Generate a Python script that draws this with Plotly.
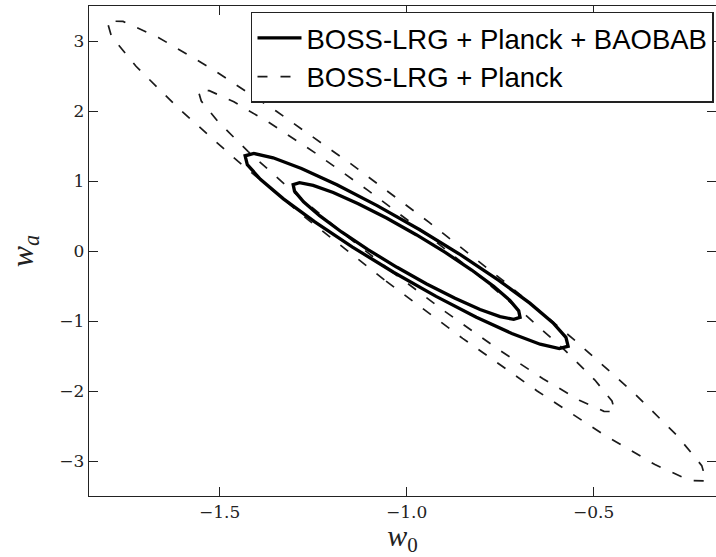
import plotly.graph_objects as go

# Contour vertices (w0, wa)
baobab_2s_w0 = [-1.0340, -1.1446, -1.2454, -1.3293, -1.3909, -1.4258, -1.4317, -1.4082, -1.3569, -1.2812, -1.1864, -1.0788,
                -0.9660, -0.8554, -0.7546, -0.6707, -0.6091, -0.5742, -0.5683, -0.5918, -0.6431, -0.7188, -0.8136, -0.9212]
baobab_2s_wa = [-0.307, 0.056, 0.415, 0.745, 1.025, 1.234, 1.360, 1.393, 1.331, 1.178, 0.945, 0.648,
                0.307, -0.056, -0.415, -0.745, -1.025, -1.234, -1.360, -1.393, -1.331, -1.178, -0.945, -0.648]

baobab_1s_w0 = [-1.0257, -1.1033, -1.1739, -1.2326, -1.2755, -1.2996, -1.3033, -1.2863, -1.2498, -1.1963, -1.1294, -1.0537,
                -0.9743, -0.8967, -0.8261, -0.7674, -0.7245, -0.7004, -0.6967, -0.7137, -0.7502, -0.8037, -0.8706, -0.9463]
baobab_1s_wa = [-0.233, 0.020, 0.272, 0.505, 0.704, 0.855, 0.948, 0.976, 0.938, 0.835, 0.676, 0.471,
                0.233, -0.020, -0.272, -0.505, -0.704, -0.855, -0.948, -0.976, -0.938, -0.835, -0.676, -0.471]

planck_2s_w0 = [-1.0595, -1.2647, -1.4519, -1.6083, -1.7233, -1.7889, -1.8008, -1.7581, -1.6637, -1.5242, -1.3489, -1.1497,
                -0.9405, -0.7353, -0.5481, -0.3917, -0.2767, -0.2111, -0.1992, -0.2419, -0.3363, -0.4758, -0.6511, -0.8503]
planck_2s_wa = [-0.412, 0.452, 1.286, 2.031, 2.639, 3.066, 3.285, 3.280, 3.051, 2.614, 1.999, 1.248,
                0.412, -0.452, -1.286, -2.031, -2.639, -3.066, -3.285, -3.280, -3.051, -2.614, -1.999, -1.248]

planck_1s_w0 = [-1.0415, -1.1843, -1.3146, -1.4234, -1.5033, -1.5489, -1.5572, -1.5275, -1.4617, -1.3646, -1.2426, -1.1041,
                -0.9585, -0.8157, -0.6854, -0.5766, -0.4967, -0.4511, -0.4428, -0.4725, -0.5383, -0.6354, -0.7574, -0.8959]
planck_1s_wa = [-0.286, 0.317, 0.900, 1.420, 1.844, 2.143, 2.295, 2.291, 2.131, 1.825, 1.395, 0.870,
                0.286, -0.317, -0.900, -1.420, -1.844, -2.143, -2.295, -2.291, -2.131, -1.825, -1.395, -0.870]

series_names = ["BOSS-LRG + Planck + BAOBAB", "BOSS-LRG + Planck"]
x_tickvals = [-1.5, -1.0, -0.5]
x_ticktext = ["\u22121.5", "\u22121.0", "\u22120.5"]
y_tickvals = [-3, -2, -1, 0, 1, 2, 3]
y_ticktext = ["\u22123", "\u22122", "\u22121", "0", "1", "2", "3"]


def closed(v):
    return list(v) + [v[0]]


fig = go.Figure()

solid = dict(color="black", width=3.3, shape="linear")
dashed = dict(color="#1a1a1a", width=1.7, dash="10px,13px", shape="linear")

fig.add_trace(go.Scatter(x=closed(planck_2s_w0), y=closed(planck_2s_wa), mode="lines", line=dashed,
                         name=series_names[1], legendgroup="p", showlegend=False, hoverinfo="skip"))
fig.add_trace(go.Scatter(x=closed(planck_1s_w0), y=closed(planck_1s_wa), mode="lines", line=dashed,
                         name=series_names[1], legendgroup="p", showlegend=True, legendrank=2, hoverinfo="skip"))
fig.add_trace(go.Scatter(x=closed(baobab_2s_w0), y=closed(baobab_2s_wa), mode="lines", line=solid,
                         name=series_names[0], legendgroup="b", showlegend=True, legendrank=1, hoverinfo="skip"))
fig.add_trace(go.Scatter(x=closed(baobab_1s_w0), y=closed(baobab_1s_wa), mode="lines", line=solid,
                         name=series_names[0], legendgroup="b", showlegend=False, hoverinfo="skip"))

axis_common = dict(
    showgrid=False, zeroline=False, showline=True, linecolor="#222", linewidth=1.4,
    ticks="inside", ticklen=9, tickwidth=1, tickcolor="#222", mirror="ticks", automargin=False,
    tickfont=dict(family="DejaVu Serif", size=17, color="#222"),
)

fig.update_layout(
    width=716, height=557,
    margin=dict(l=89, r=0, t=6, b=61, autoexpand=False),
    paper_bgcolor="white", plot_bgcolor="white",
    xaxis=dict(range=[-1.849, -0.173], tickvals=x_tickvals, ticktext=x_ticktext,
               title=dict(text="<i>w</i><sub>0</sub>", font=dict(family="Liberation Serif", size=30, color="#222"),
                          standoff=7),
               **axis_common),
    yaxis=dict(range=[-3.5, 3.5], tickvals=y_tickvals, ticktext=y_ticktext,
               title=dict(text="<i>w</i><sub><i>a</i></sub>", font=dict(family="Liberation Serif", size=32, color="#222"),
                          standoff=16),
               **axis_common),
    legend=dict(x=0.9968, y=0.9878, xanchor="right", yanchor="top",
                bgcolor="white", bordercolor="#222", borderwidth=1.5,
                font=dict(family="Liberation Sans", size=27.5, color="black"),
                tracegroupgap=0, itemwidth=44, traceorder="normal"),
    showlegend=True,
)

fig.write_html("out.html",
               config={"displayModeBar": False},
               post_script="document.body.style.margin='0';document.body.style.overflow='hidden';")
